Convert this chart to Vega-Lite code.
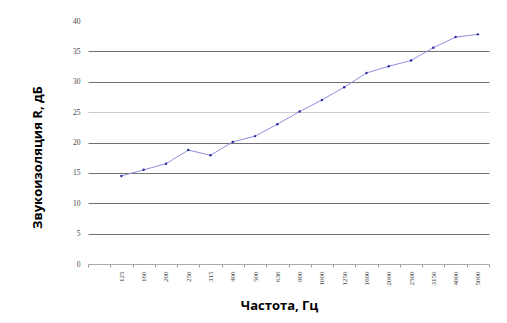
{
  "$schema": "https://vega.github.io/schema/vega-lite/v6.json",
  "width": 401,
  "height": 243,
  "padding": {"left": 88, "top": 21, "right": 18, "bottom": 59},
  "autosize": {"type": "none"},
  "background": "white",
  "config": {"view": {"stroke": null}},
  "data": {"values": [
    {"f": "125", "r": 14.5},
    {"f": "160", "r": 15.5},
    {"f": "200", "r": 16.5},
    {"f": "250", "r": 18.75},
    {"f": "315", "r": 17.9},
    {"f": "400", "r": 20.1},
    {"f": "500", "r": 21.05},
    {"f": "630", "r": 23.0},
    {"f": "800", "r": 25.1},
    {"f": "1000", "r": 27.0},
    {"f": "1250", "r": 29.1},
    {"f": "1600", "r": 31.45},
    {"f": "2000", "r": 32.55},
    {"f": "2500", "r": 33.5},
    {"f": "3150", "r": 35.6},
    {"f": "4000", "r": 37.35},
    {"f": "5000", "r": 37.8}
  ]},
  "encoding": {
    "x": {
      "field": "f", "type": "nominal", "sort": null, "bandPosition": 0.5,
      "scale": {"type": "band", "paddingInner": 0, "paddingOuter": 0,
        "domain": [" ", "125", "160", "200", "250", "315", "400", "500", "630", "800", "1000", "1250", "1600", "2000", "2500", "3150", "4000", "5000"]},
      "axis": {
        "title": "Частота, Гц", "titleFont": "Open Sans", "titleFontWeight": "bold", "titleFontSize": 13, "titleColor": "#000",
        "titlePadding": 14, "titleX": 191,
        "labelAngle": -90, "labelFont": "Liberation Serif", "labelFontSize": 7, "labelColor": "#444", "labelPadding": 4,
        "labelBaseline": "middle", "labelAlign": "right",
        "tickBand": "extent", "tickSize": 3, "tickColor": "#999", "domainColor": "#aaa", "grid": false
      }
    },
    "y": {
      "field": "r", "type": "quantitative",
      "scale": {"domain": [0, 40], "nice": false},
      "axis": {
        "title": "Звукоизоляция R, дБ", "titleFont": "Open Sans", "titleFontWeight": "bold", "titleFontSize": 13, "titleColor": "#000",
        "titlePadding": 28, "titleY": 136,
        "values": [0, 5, 10, 15, 20, 25, 30, 35, 40],
        "labelFont": "Liberation Serif", "labelFontSize": 7.5, "labelColor": "#444", "labelPadding": 8,
        "ticks": false, "domain": false, "grid": true,
        "gridColor": {"condition": {"test": "datum.value === 25", "value": "#cccccc"}, "value": "#707070"},
        "gridOpacity": {"condition": {"test": "datum.value === 40 || datum.value === 0", "value": 0}, "value": 1}
      }
    }
  },
  "layer": [
    {"mark": {"type": "line", "color": "#8f8fe0", "strokeWidth": 1}},
    {"mark": {"type": "point", "filled": true, "color": "#2a2aa0", "size": 6, "opacity": 1}}
  ]
}
